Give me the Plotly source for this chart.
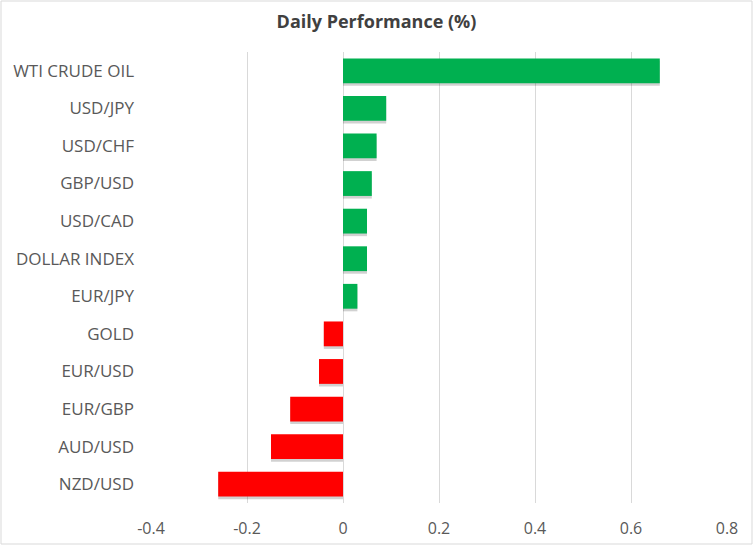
import plotly.graph_objects as go

categories = ["WTI CRUDE OIL", "USD/JPY", "USD/CHF", "GBP/USD", "USD/CAD", "DOLLAR INDEX",
              "EUR/JPY", "GOLD", "EUR/USD", "EUR/GBP", "AUD/USD", "NZD/USD"]
values = [0.66, 0.09, 0.07, 0.06, 0.05, 0.05, 0.03, -0.04, -0.05, -0.11, -0.15, -0.26]
tick_vals = [-0.4, -0.2, 0, 0.2, 0.4, 0.6, 0.8]
tick_text = ["-0.4", "-0.2", "0", "0.2", "0.4", "0.6", "0.8"]

colors = ["#00B050" if v >= 0 else "#FF0000" for v in values]

W, H = 753, 545
L, R, T, B = 151, 26, 52, 42

fig = go.Figure()
# soft drop shadow
fig.add_trace(go.Bar(
    x=values, y=categories, orientation="h",
    marker=dict(color="rgba(0,0,0,0.18)", line=dict(width=0)),
    width=0.66, offset=-0.26, hoverinfo="skip", showlegend=False,
))
fig.add_trace(go.Bar(
    x=values, y=categories, orientation="h",
    marker=dict(color=colors, line=dict(width=0)),
    width=0.66, offset=-0.33, showlegend=False,
))

fig.update_layout(
    width=W, height=H,
    margin=dict(l=L, r=R, t=T, b=B, autoexpand=False),
    paper_bgcolor="white", plot_bgcolor="white",
    barmode="overlay",
    title=dict(text="<b>Daily Performance (%)</b>", x=0.5, xanchor="center",
               y=1 - 22 / H, yanchor="middle",
               font=dict(family="Open Sans", size=18, color="#404040")),
    font=dict(family="Open Sans", size=17, color="#595959"),
    xaxis=dict(range=[-0.4, 0.8], tickvals=tick_vals, ticktext=tick_text,
               showgrid=True, gridcolor="#D9D9D9", gridwidth=1,
               zeroline=False, showline=False, ticks="", automargin=False,
               ticklabelstandoff=14, tickfont=dict(size=16, color="#595959")),
    yaxis=dict(categoryorder="array", categoryarray=categories, autorange="reversed",
               showgrid=False, zeroline=False, showline=False, ticks="", automargin=False,
               ticklabelstandoff=16, tickfont=dict(size=17, color="#595959")),
    shapes=[dict(type="rect", xref="paper", yref="paper",
                 x0=-(L - 1) / (W - L - R), x1=1 + (R - 1) / (W - L - R),
                 y0=-(B - 1) / (H - T - B), y1=1 + (T - 1) / (H - T - B),
                 line=dict(color="#D9D9D9", width=1), layer="below")],
)

fig.write_html("out.html", config={"displayModeBar": False})
with open("out.html", "r", encoding="utf-8") as f:
    html = f.read()
html = html.replace("<body>", '<body style="margin:0;padding:0;overflow:hidden">', 1)
with open("out.html", "w", encoding="utf-8") as f:
    f.write(html)
